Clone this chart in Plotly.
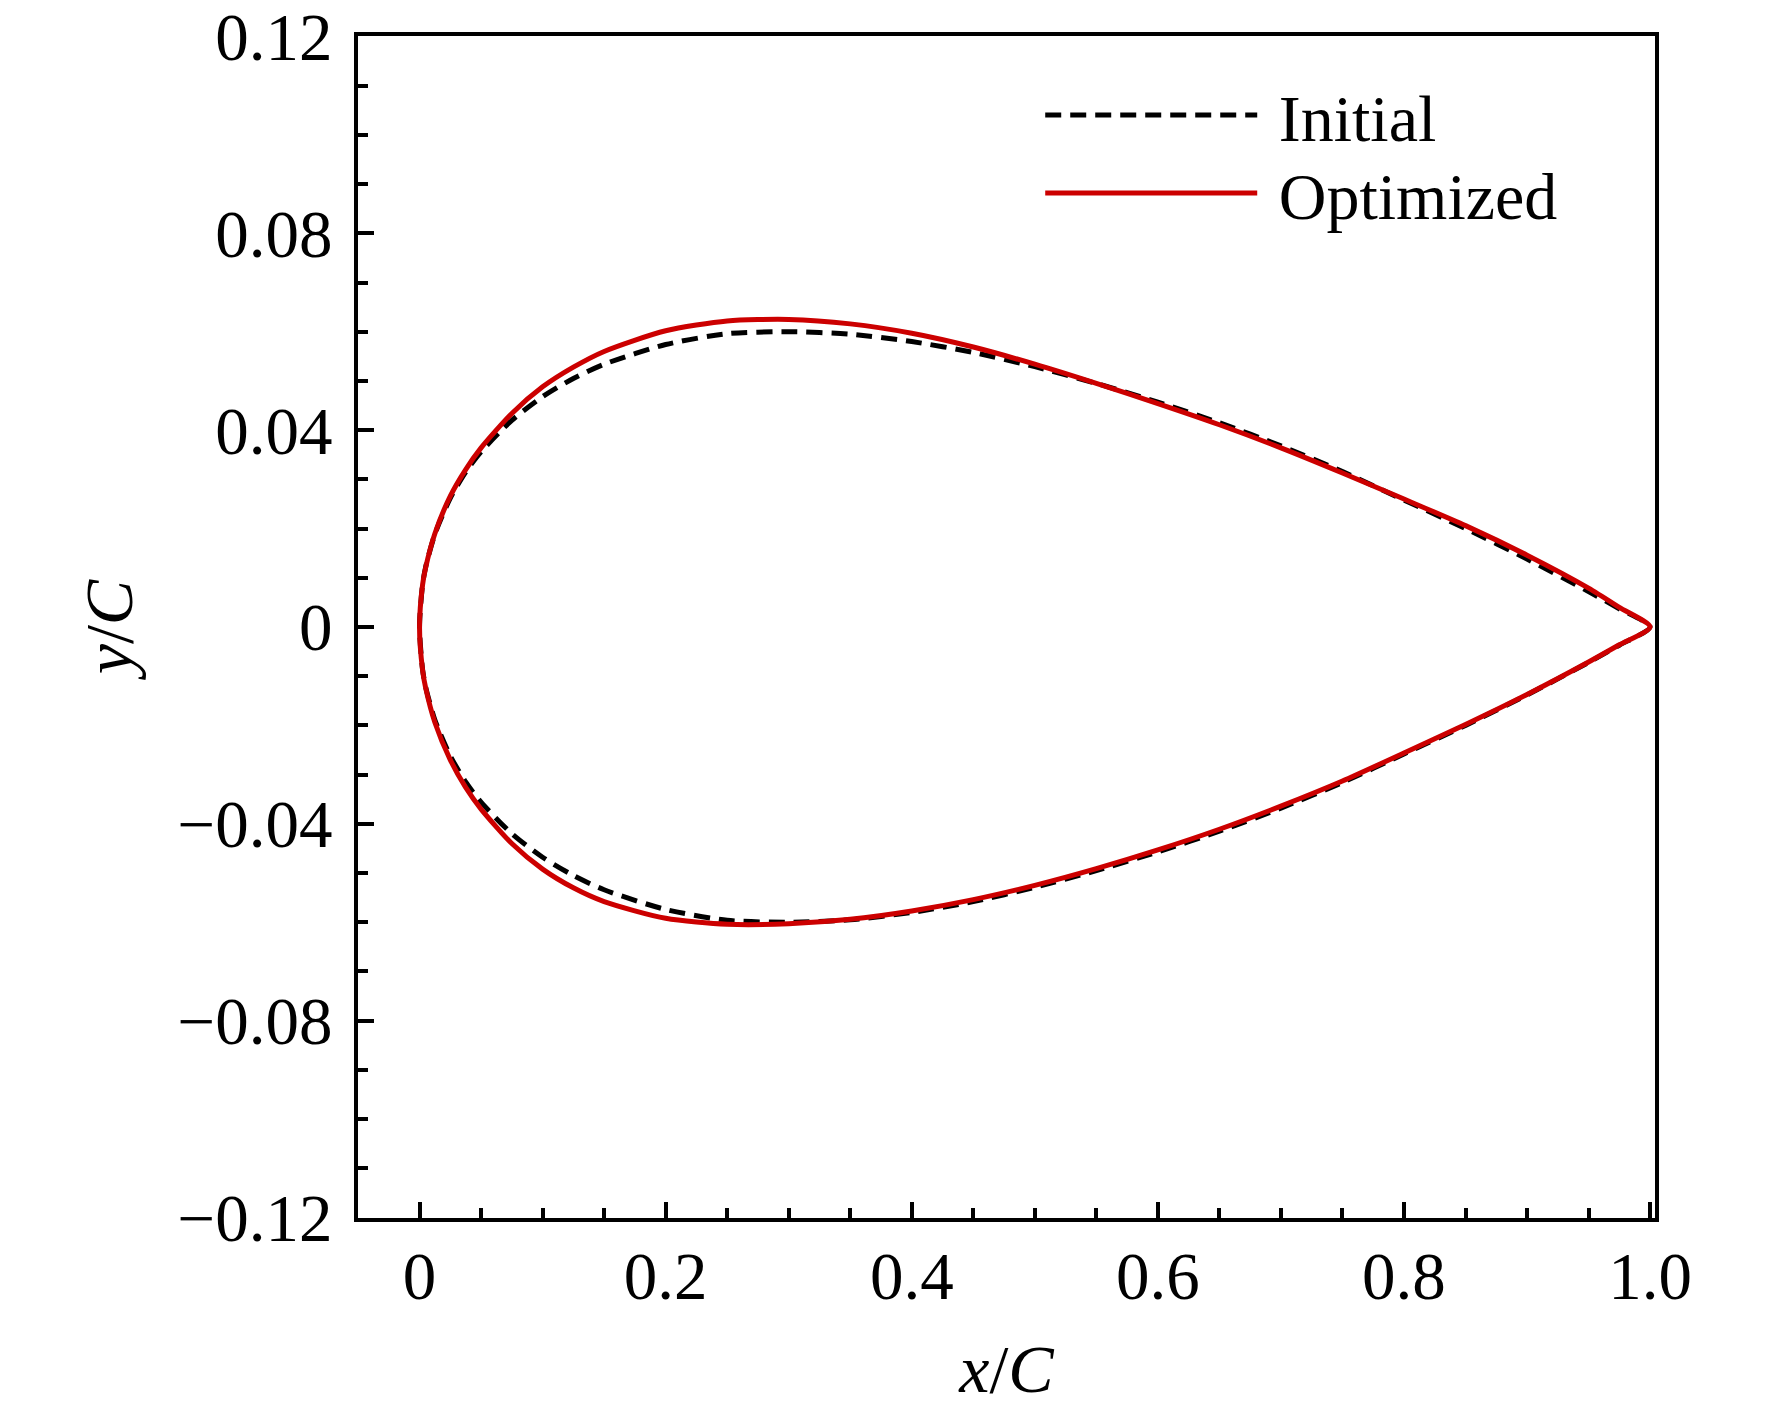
import plotly.graph_objects as go

# chordwise stations
x_stations = [0.0, 0.0025, 0.005, 0.0125, 0.025, 0.0375, 0.05, 0.075, 0.1, 0.125, 0.15, 0.2, 0.25,
              0.3, 0.35, 0.4, 0.45, 0.5, 0.55, 0.6, 0.65, 0.7, 0.75, 0.8, 0.85,
              0.9, 0.95, 0.975, 1.0]

init_upper = [0.0, 0.0087, 0.0122, 0.0189, 0.0262, 0.0315, 0.0356, 0.0420, 0.0468, 0.0505, 0.0534,
              0.0574, 0.0596, 0.0600, 0.0595, 0.0580, 0.0558, 0.0529, 0.0495, 0.0457,
              0.0415, 0.0368, 0.0316, 0.0258, 0.0200, 0.0138, 0.0072, 0.0037, 0.0]
init_lower = [0.0, -0.0087, -0.0122, -0.0189, -0.0262, -0.0315, -0.0356, -0.0420, -0.0468, -0.0505, -0.0534,
              -0.0574, -0.0596, -0.0600, -0.0595, -0.0580, -0.0558, -0.0529, -0.0495, -0.0457,
              -0.0415, -0.0368, -0.0316, -0.0258, -0.0200, -0.0138, -0.0072, -0.0037, 0.0]

opt_upper = [0.0, 0.0086, 0.0121, 0.0190, 0.0266, 0.0320, 0.0364, 0.0434, 0.0488, 0.0528, 0.0560,
             0.0602, 0.0622, 0.0625, 0.0616, 0.0597, 0.0569, 0.0534, 0.0495, 0.0454,
             0.0411, 0.0364, 0.0313, 0.0260, 0.0206, 0.0146, 0.0079, 0.0040, 0.0]
opt_lower = [0.0, -0.0088, -0.0124, -0.0194, -0.0270, -0.0326, -0.0370, -0.0440, -0.0492, -0.0530, -0.0558,
             -0.0592, -0.0604, -0.0603, -0.0594, -0.0577, -0.0554, -0.0525, -0.0491, -0.0453,
             -0.0411, -0.0364, -0.0313, -0.0256, -0.0198, -0.0137, -0.0071, -0.0036, 0.0]

x_ticks = [0, 0.2, 0.4, 0.6, 0.8, 1.0]
x_ticklabels = ["0", "0.2", "0.4", "0.6", "0.8", "1.0"]
y_ticks = [-0.12, -0.08, -0.04, 0, 0.04, 0.08, 0.12]
y_ticklabels = ["\u22120.12", "\u22120.08", "\u22120.04", "0", "0.04", "0.08", "0.12"]

# closed contour: trailing edge -> upper -> leading edge -> lower -> trailing edge
x_loop = x_stations[::-1] + x_stations[1:]
init_loop = init_upper[::-1] + init_lower[1:]
opt_loop = opt_upper[::-1] + opt_lower[1:]

font_name = "Liberation Serif"

fig = go.Figure()
fig.add_trace(go.Scatter(x=x_loop, y=init_loop, mode='lines', name='\u00a0Initial', legend='legend',
                         line=dict(color='black', width=5, dash='16px,9px', shape='spline', smoothing=0.7)))
fig.add_trace(go.Scatter(x=x_loop, y=opt_loop, mode='lines', name='\u00a0Optimized', legend='legend2',
                         line=dict(color='#cc0000', width=5, shape='spline', smoothing=0.7)))

axis_common = dict(showline=True, linecolor='black', linewidth=4, mirror=True,
                   ticks='inside', ticklen=16, tickwidth=3.5, tickcolor='black',
                   showgrid=False, zeroline=False, ticklabeloverflow='allow', automargin=False,
                   tickfont=dict(family=font_name, size=67, color='black'))
minor_common = dict(ticks='inside', ticklen=10, tickwidth=3.5, tickcolor='black')
legend_common = dict(xanchor='left', yanchor='middle', bgcolor='rgba(0,0,0,0)',
                     font=dict(family=font_name, size=66, color='black'), itemwidth=212)

fig.update_layout(
    width=1772, height=1407,
    margin=dict(l=350, r=125, t=28, b=197),
    plot_bgcolor='white', paper_bgcolor='white',
    font=dict(family=font_name, size=66, color='black'),
    showlegend=True,
    xaxis=dict(range=[-0.05, 1.004], tickvals=x_ticks, ticktext=x_ticklabels,
               minor=dict(dtick=0.05, tick0=0, **minor_common),
               title=dict(text='<i>x</i>/<i>C</i>', font=dict(family=font_name, size=68), standoff=33),
               ticklabelstandoff=-3,
               **axis_common),
    yaxis=dict(range=[-0.1201, 0.1201], tickvals=y_ticks, ticktext=y_ticklabels,
               minor=dict(dtick=0.01, tick0=0, **minor_common),
               title=dict(text='<i>y</i>/<i>C</i>', font=dict(family=font_name, size=68), standoff=24),
               ticklabelstandoff=8,
               **axis_common),
    legend=dict(x=0.526, y=0.933, **legend_common),
    legend2=dict(x=0.526, y=0.867, **legend_common),
)

fig.write_html("out.html")
